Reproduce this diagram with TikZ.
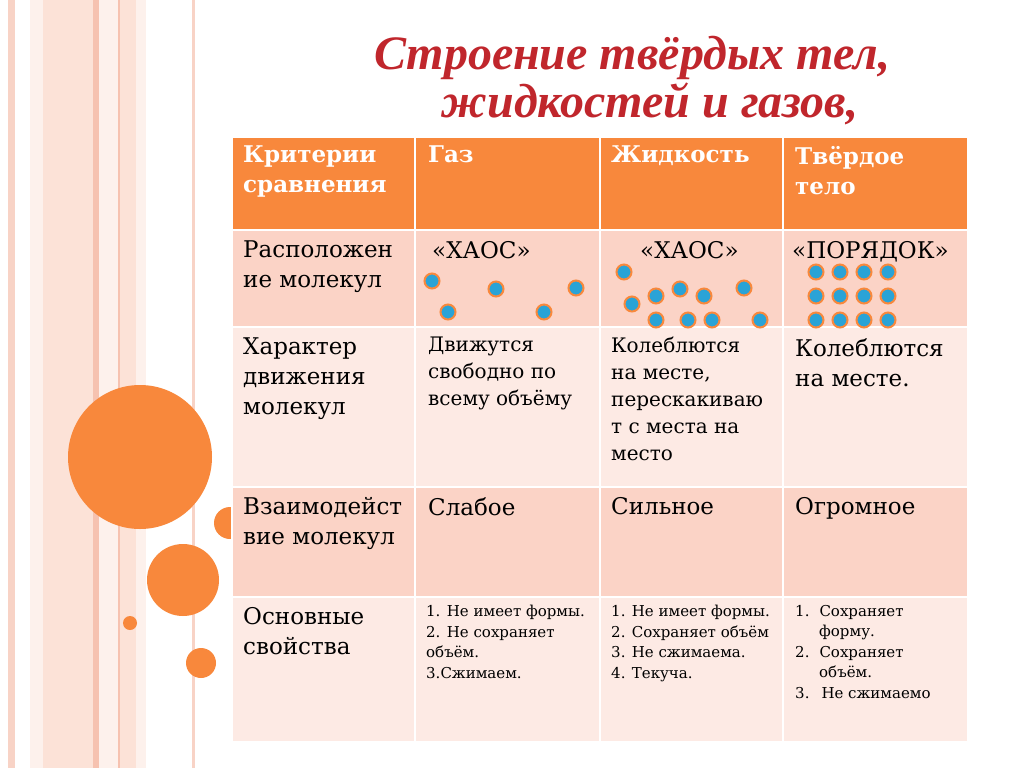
\documentclass[tikz,border=0pt]{standalone}
\usepackage{fontspec}
\setmainfont{Liberation Serif}
\newfontfamily\tabfont{DejaVu Serif}
\begin{document}
\begin{tikzpicture}[x=1pt,y=-1pt,
  cellA/.style={fill=rowA,draw=white,line width=1.5pt},
  cellB/.style={fill=rowB,draw=white,line width=1.5pt},
  hd/.style={fill=hdr,draw=white,line width=1.5pt},
  txt/.style={anchor=north west,align=left,font=\tabfont\fontsize{23}{30}\selectfont,inner sep=0pt},
  htxt/.style={txt,text=white,font=\tabfont\bfseries\fontsize{23}{30}\selectfont},
  stxt/.style={anchor=north west,align=left,font=\tabfont\fontsize{15}{20.5}\selectfont,inner sep=0pt},
  mol/.style={circle,fill=molb,draw=orng,line width=2pt,minimum size=15pt,inner sep=0pt},
  dot/.style={fill=orng}]
\definecolor{orng}{HTML}{F8883C}
\definecolor{hdr}{HTML}{F8883C}
\definecolor{rowA}{HTML}{FBD3C6}
\definecolor{rowB}{HTML}{FDEAE4}
\definecolor{molb}{HTML}{2AA3D6}
\definecolor{ttl}{HTML}{C0262C}
\definecolor{s1}{HTML}{F8D3C6}
\definecolor{s2}{HTML}{FDF1EC}
\definecolor{s3}{HTML}{FCE2D7}
\definecolor{s4}{HTML}{F6C2B0}
\useasboundingbox (0,0) rectangle (1024,768);
\fill[white] (0,0) rectangle (1024,768);
% stripes
\fill[s1] (8,0) rectangle (15,768);
\fill[s2] (30,0) rectangle (43,768);
\fill[s3] (43,0) rectangle (93,768);
\fill[s4] (93,0) rectangle (99,768);
\fill[s2] (99,0) rectangle (118,768);
\fill[s4] (118,0) rectangle (120,768);
\fill[s3] (120,0) rectangle (136,768);
\fill[s2] (136,0) rectangle (146,768);
\fill[s1] (192,0) rectangle (195,768);
% circles
\fill[dot] (140,457) circle[radius=72];
\fill[dot] (183,580) circle[radius=36];
\fill[dot] (230,523) circle[radius=16];
\fill[dot] (130,623) circle[radius=7];
\fill[dot] (201,663) circle[radius=15];
% title
\node[text=ttl,font=\bfseries\itshape\fontsize{48}{52}\selectfont] (t1) at (632,58) {Строение твёрдых тел,};
\node[text=ttl,font=\bfseries\itshape\fontsize{48}{52}\selectfont] (t2) at (650,104) {жидкостей и газов,};
% table
\foreach \xa/\xb [count=\c] in {232/415,415/600,600/783,783/968}{
  \path[hd] (\xa,137) rectangle (\xb,230);
  \path[cellA] (\xa,230) rectangle (\xb,327);
  \path[cellB] (\xa,327) rectangle (\xb,487);
  \path[cellA] (\xa,487) rectangle (\xb,597);
  \path[cellB] (\xa,597) rectangle (\xb,742);
}
\node[htxt] (h1) at (243,146) {Критерии\\сравнения};
\node[htxt] (h2) at (428,146) {Газ};
\node[htxt] (h3) at (611,146) {Жидкость};
\node[htxt] (h4) at (795,146) {Твёрдое\\тело};
\node[txt] (r1) at (243,241) {Расположен\\ие молекул};
\node[txt] (g1) at (432,241) {«ХАОС»};
\node[txt] (l1) at (640,241) {«ХАОС»};
\node[txt] (s1n) at (792,241) {«ПОРЯДОК»};
\node[txt] (r2) at (243,338) {Характер\\движения\\молекул};
\node[txt,font=\tabfont\fontsize{20}{27}\selectfont] (g2) at (428,337) {Движутся\\свободно по\\всему объёму};
\node[txt,font=\tabfont\fontsize{20}{27}\selectfont] (l2) at (611,337) {Колеблются\\на месте,\\перескакиваю\\т с места на\\место};
\node[txt] (s2n) at (795,338) {Колеблются\\на месте.};
\node[txt] (r3) at (243,497) {Взаимодейст\\вие молекул};
\node[txt] (g3) at (428,497) {Слабое};
\node[txt] (l3) at (611,497) {Сильное};
\node[txt] (s3n) at (795,497) {Огромное};
\node[txt] (r4) at (243,607) {Основные\\свойства};
\node[stxt] (g4) at (426,605) {1. Не имеет формы.\\2. Не сохраняет\\объём.\\3.Сжимаем.};
\node[stxt] (l4) at (611,605) {1. Не имеет формы.\\2. Сохраняет объём\\3. Не сжимаема.\\4. Текуча.};
\node[stxt] (s4n) at (795,605) {1.\hspace{10pt}Сохраняет\\\hspace{24pt}форму.\\2.\hspace{10pt}Сохраняет\\\hspace{24pt}объём.\\3.\hspace{12pt}Не сжимаемо};
% molecules
\foreach \p [count=\i] in {(432,281),(496,289),(576,288),(448,312),(544,312)}
  \node[mol] (gm\i) at \p {};
\foreach \p [count=\i] in {(624,272),(632,304),(656,296),(680,289),(704,296),(744,288),(656,320),(688,320),(712,320),(760,320)}
  \node[mol] (lm\i) at \p {};
\foreach \yy [count=\j] in {272,296,320}
  \foreach \xx [count=\i] in {816,840,864,888}
    \node[mol] (sm\i\j) at (\xx,\yy) {};
\end{tikzpicture}
\end{document}
